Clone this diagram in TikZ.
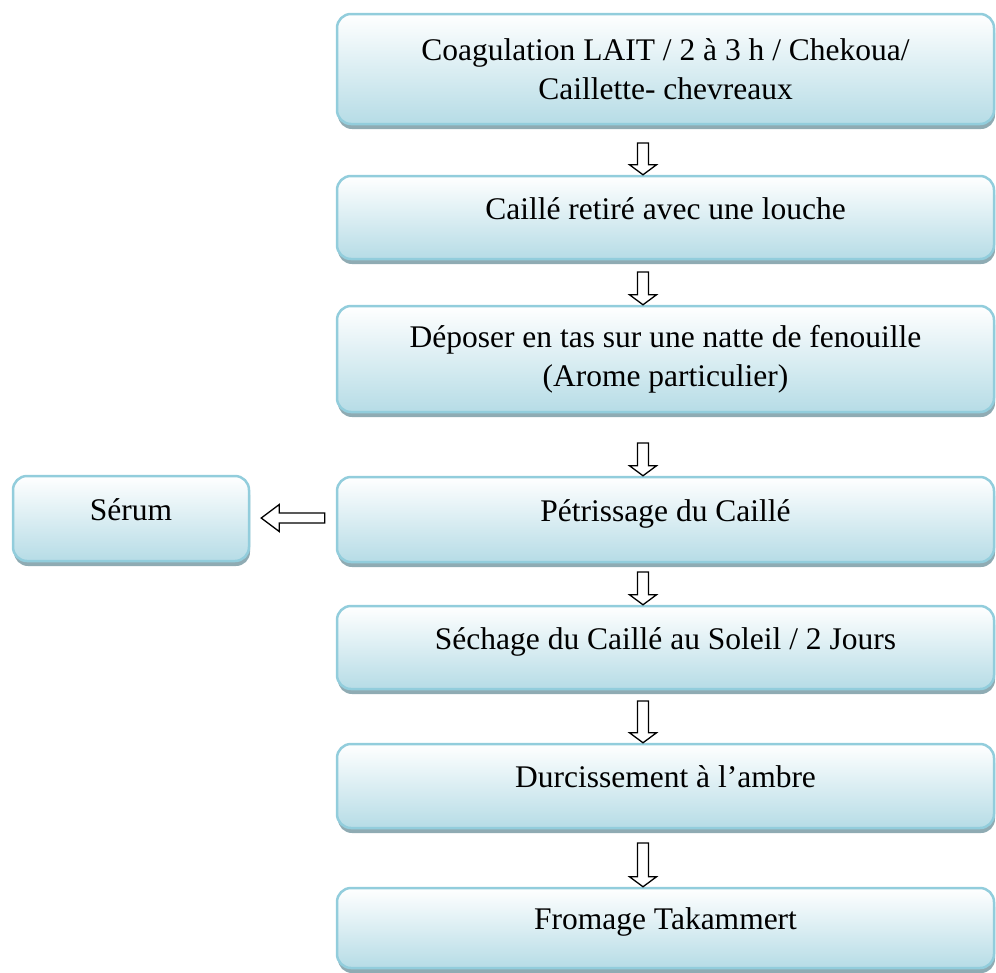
\documentclass[tikz,border=0pt]{standalone}
\usepackage{fontspec}
\setmainfont{Liberation Serif}
\usetikzlibrary{shadows,calc}
\definecolor{boxborder}{HTML}{92CDDC}
\definecolor{boxbottom}{HTML}{B6DCE6}
\definecolor{boxshadow}{HTML}{8FABB3}
\newcommand{\hollowdown}[2]{%
  \path[hollowarrow] let \p1=(#1), \p2=(#2) in
    (\x1-5.5pt,\y1) -- (\x1+5.5pt,\y1) -- (\x1+5.5pt,\y2+10pt) -- (\x1+13.5pt,\y2+10pt)
    -- (\x1,\y2) -- (\x1-13.5pt,\y2+10pt) -- (\x1-5.5pt,\y2+10pt) -- cycle;}
\newcommand{\hollowleft}[2]{%
  \path[hollowarrow] let \p1=(#1), \p2=(#2) in
    (\x1,\y1-5pt) -- (\x1,\y1+5pt) -- (\x2+18pt,\y1+5pt) -- (\x2+18pt,\y1+13.5pt)
    -- (\x2,\y1) -- (\x2+18pt,\y1-13.5pt) -- (\x2+18pt,\y1-5pt) -- cycle;}
\tikzset{
  flowbox/.style={draw=boxborder, line width=2.5pt, rounded corners=14pt,
    top color=white, bottom color=boxbottom,
    drop shadow={shadow xshift=1pt, shadow yshift=-5pt, fill=boxshadow, opacity=1},
    inner sep=0pt, align=center, font=\fontsize{31.5}{39}\selectfont},
  mainbox/.style={flowbox, minimum width=657pt},
  oneline/.style={text height=21pt, text depth=18pt},
  hollowarrow/.style={draw=black, line width=1.3pt, fill=white, line join=miter},
}
\begin{document}
\begin{tikzpicture}[x=1pt,y=-1pt]
\useasboundingbox (0,0) rectangle (996,972);
\node[mainbox, minimum height=110pt] (b1) at (665.5,69)
  {Coagulation LAIT / 2 à 3 h / Chekoua/\\Caillette- chevreaux};
\node[mainbox, oneline, minimum height=83pt] (b2) at (665.5,217.5)
  {Caillé retiré avec une louche};
\node[mainbox, minimum height=106pt] (b3) at (665.5,359)
  {Déposer en tas sur une natte de fenouille\\(Arome particulier)};
\node[mainbox, oneline, minimum height=85pt] (b4) at (665.5,519.5)
  {Pétrissage du Caillé};
\node[flowbox, oneline, minimum width=236pt, minimum height=85pt] (serum) at (131,518.5)
  {Sérum};
\node[mainbox, oneline, minimum height=83pt] (b5) at (665.5,647.5)
  {Séchage du Caillé au Soleil / 2 Jours};
\node[mainbox, oneline, minimum height=84pt] (b6) at (665.5,786)
  {Durcissement à l’ambre};
\node[mainbox, oneline, minimum height=80pt] (b7) at (665.5,928)
  {Fromage Takammert};
\coordinate (c1) at (643,143);
\coordinate (c2) at (643,272);
\coordinate (c3) at (643,443);
\coordinate (c4) at (643,572);
\coordinate (c5) at (643,701);
\coordinate (c6) at (643,843);
\hollowdown{c1}{c1 |- b2.north}
\hollowdown{c2}{c2 |- b3.north}
\hollowdown{c3}{c3 |- b4.north}
\hollowdown{c4}{c4 |- b5.north}
\hollowdown{c5}{c5 |- b6.north}
\hollowdown{c6}{c6 |- b7.north}
\coordinate (ltail) at ($(b4.west)+(-11,-1.5)$);
\coordinate (ltip) at ($(serum.east)+(11,0)$);
\hollowleft{ltail}{ltip}
\end{tikzpicture}
\end{document}
